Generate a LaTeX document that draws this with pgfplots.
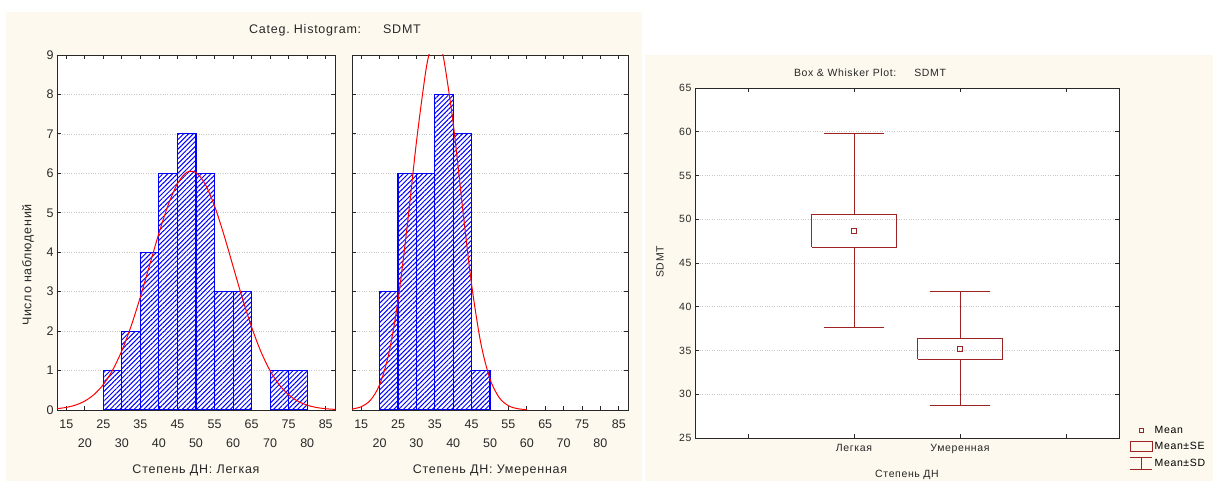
\documentclass[border=0pt]{standalone}
\usepackage{fontspec}
\setmainfont{Liberation Sans}
\usepackage{pgfplots}
\pgfplotsset{compat=1.18}
\usetikzlibrary{patterns.meta}

\definecolor{panelbg}{RGB}{253,249,238}
\definecolor{barblue}{RGB}{0,0,255}
\definecolor{boxred}{RGB}{155,35,35}
\definecolor{gridgray}{RGB}{200,200,200}
\definecolor{ink}{RGB}{40,40,40}

\newcommand{\fbig}{\fontsize{12.5}{14}\selectfont}
\newcommand{\flabel}{\fontsize{12.5}{14}\selectfont\addfontfeature{LetterSpace=6}}
\newcommand{\fsmall}{\fontsize{10.5}{12}\selectfont\addfontfeature{LetterSpace=6}}

\pgfplotsset{
  frame/.style={
    scale only axis, anchor=south west,
    tick align=inside, major tick length=4pt,
    ymajorgrids, grid style={gridgray, dotted, line width=0.7pt},
    axis line style={line width=0.9pt, ink},
    tick style={ink, line width=0.8pt},
    axis background/.style={fill=white},
    /pgf/number format/assume math mode=true,
    tick label style={text=ink},
  },
  histo/.style={
    frame, width=278pt, height=355pt,
    xmin=12.5, xmax=87.5, ymin=0, ymax=9,
    xtick={15,25,...,85},
    extra x ticks={20,30,...,80},
    extra x tick style={grid=none, xticklabel style={yshift=-19pt}},
    ytick={0,...,9},
    tick label style={font=\fbig},
    xticklabel style={yshift=-6pt},
  },
  bars/.style={ybar interval, draw=barblue, line width=1.1pt,
    pattern={Lines[angle=45,distance=3.4pt,line width=1pt]}, pattern color=barblue},
  fit/.style={red, line width=1pt, smooth, mark=none},
  bw/.style={boxred, line width=0.9pt, mark=none, unbounded coords=jump},
}

\begin{document}
\begin{tikzpicture}[x=1pt,y=1pt]
\useasboundingbox (0,0) rectangle (1213,481);
\fill[panelbg] (6,0) rectangle (642,469);
\fill[panelbg] (645,0) rectangle (1213,426);

% histogram, Легкая
\begin{axis}[histo, at={(57pt,71pt)}]
\addplot[bars] coordinates {(25,1) (30,2) (35,4) (40,6) (45,7) (50,6) (55,3) (60,3) (65,0)};
\addplot[bars] coordinates {(70,1) (75,1) (80,0)};
\addplot[fit] coordinates {
 (12.5,0.033) (15,0.066) (17.5,0.125) (20,0.227) (22.5,0.393) (25,0.646)
 (27.5,1.011) (30,1.503) (32.5,2.129) (35,2.868) (37.5,3.676) (40,4.482)
 (42.5,5.200) (45,5.738) (47.5,6.025) (50,6.019) (52.5,5.721) (55,5.173)
 (57.5,4.451) (60,3.643) (62.5,2.837) (65,2.101) (67.5,1.481) (70,0.994)
 (72.5,0.634) (75,0.385) (77.5,0.222) (80,0.122) (82.5,0.064) (85,0.032) (87.5,0.015)};
\end{axis}

% histogram, Умеренная
\begin{axis}[histo, at={(352pt,71pt)}, width=276pt, yticklabels={}]
\addplot[bars] coordinates {(20,3) (25,6) (30,6) (35,8) (40,7) (45,1) (50,0)};
\addplot[fit] coordinates {
 (12.5,0.024) (15,0.083) (17.5,0.247) (20,0.638) (22.5,1.429) (25,2.773)
 (27.5,4.661) (30,6.788) (32.5,8.563) (33.75,9.115) (35,9.36) (36.25,9.274)
 (37.5,8.864) (40,7.271) (42.5,5.168) (45,3.182) (47.5,1.698) (50,0.784)
 (52.5,0.314) (55,0.109) (57.5,0.033) (60,0.009)};
\end{axis}

% box & whisker plot: box = mean +- SE, whiskers = mean +- SD
\begin{axis}[frame, at={(695pt,43pt)}, width=424pt, height=350pt,
  xmin=-0.5, xmax=3.5, ymin=25, ymax=65,
  xtick={0,1,2,3}, xticklabels={,Легкая,Умеренная,},
  ytick={25,30,...,65},
  tick label style={font=\fsmall},
  xticklabel style={yshift=-3pt},
  legend style={at={(1.025,0.04)}, anchor=north west, draw=none, fill=none,
    font=\fsmall, row sep=3.5pt, inner sep=0pt},
  legend cell align=left,
]
\addplot[bw, forget plot] coordinates {
 (0.6,46.8) (1.4,46.8) (1.4,50.6) (0.6,50.6) (0.6,46.8) (1,nan)
 (1,50.6) (1,59.86) (1,nan) (0.72,59.86) (1.28,59.86) (1,nan)
 (1,46.8) (1,37.6) (1,nan) (0.72,37.6) (1.28,37.6)};
\addplot[bw, forget plot] coordinates {
 (1.6,34.0) (2.4,34.0) (2.4,36.4) (1.6,36.4) (1.6,34.0) (2,nan)
 (2,36.4) (2,41.8) (2,nan) (1.72,41.8) (2.28,41.8) (2,nan)
 (2,34.0) (2,28.7) (2,nan) (1.72,28.7) (2.28,28.7)};
\addplot[only marks, mark=square, mark size=2.3pt, boxred, line width=1pt, forget plot]
  coordinates {(1,48.66) (2,35.2)};
\addlegendimage{legend image code/.code={\draw[boxred, line width=1pt] (9pt,-2.3pt) rectangle (13.6pt,2.3pt);}}
\addlegendentry{Mean}
\addlegendimage{legend image code/.code={\draw[boxred, line width=0.9pt] (0pt,-5pt) rectangle (22pt,5pt);}}
\addlegendentry{Mean±SE}
\addlegendimage{legend image code/.code={\draw[boxred, line width=0.9pt] (0pt,-6pt)--(22pt,-6pt) (11pt,-6pt)--(11pt,6pt) (0pt,6pt)--(22pt,6pt);}}
\addlegendentry{Mean±SD}
\end{axis}

% titles and axis labels
\node[font=\flabel, text=ink] at (335,451) {Categ.\ Histogram:\hspace{22pt}SDMT};
\node[font=\flabel, text=ink, rotate=90] at (28,216) {Число наблюдений};
\node[font=\flabel, text=ink] at (196,11) {Степень ДН: Легкая};
\node[font=\flabel, text=ink] at (490,11) {Степень ДН: Умеренная};
\node[font=\fsmall, text=ink] at (870,408) {Box \& Whisker Plot:\hspace{18pt}SDMT};
\node[font=\fsmall, text=ink, rotate=90] at (660,219) {SDMT};
\node[font=\fsmall, text=ink] at (907,6) {Степень ДН};
\end{tikzpicture}
\end{document}
